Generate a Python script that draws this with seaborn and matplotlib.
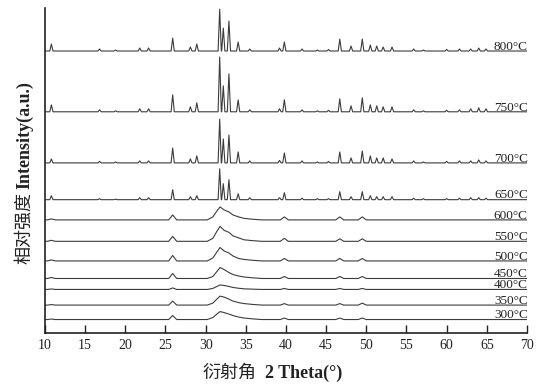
import numpy as np
import pandas as pd
import matplotlib
matplotlib.use('Agg')
import matplotlib.pyplot as plt
import seaborn as sns

# temperatures, bottom to top
temps = ['300', '350', '400', '450', '500', '550', '600', '650', '700', '750', '800']
# vertical offset of every pattern (a.u.)
offsets = [13.5, 28, 43.7, 54.7, 72.3, 92, 113.5, 133.8, 170.7, 222, 283]

# crystalline patterns (650-800 C): peak positions (2 theta) and heights
peak_pos = [10.8, 16.8, 18.8, 21.8, 22.9, 25.9, 28.1, 28.9, 31.75, 32.2, 32.9, 34.05,
            35.5, 39.2, 39.8, 42.0, 43.9, 45.3, 46.7, 48.1, 49.5, 50.5, 51.3, 52.1,
            53.2, 55.9, 57.1, 60.0, 61.6, 63.0, 64.0, 64.9]
h650 = [4, 1, 0.5, 2, 2, 10, 3, 4, 31, 16, 20, 6, 2, 2, 7, 1.5, 1, 1, 8, 3, 8, 4, 3, 3,
        3, 1.5, 1, 1, 1.5, 2, 2, 1.5]
h700 = [4, 1.5, 1, 2, 2, 15, 4, 7, 44, 24, 28, 11, 2, 2.5, 10, 2, 1, 1.5, 11, 5, 12, 7, 5, 5,
        4, 2, 1, 1.5, 2, 2, 3, 2]
h750 = [7, 2, 1, 3, 3, 17, 5, 9, 55, 26, 38, 12, 2, 3, 12, 2, 1, 1.5, 13, 6, 14, 7, 6, 5,
        5, 2, 1, 1.5, 2, 3, 4, 3]
h800 = [7, 2, 1, 3, 3, 13, 4, 7, 42, 23, 30, 9, 2, 3, 9, 2, 1, 1.5, 12, 5, 12, 6, 5, 4,
        4, 2, 1, 1.5, 2, 2, 3, 2]

# poorly crystalline patterns (300-600 C): broad hump near 32 deg plus weak peaks
hump_x = [30.2, 30.9, 31.4, 31.8, 32.3, 32.9, 33.4, 34.1, 34.8, 35.8, 37.0]
hump300 = [0, 2, 5.5, 8, 7, 5.5, 4, 2.5, 1.5, 0.7, 0]
hump350 = [0, 2, 6, 9, 8, 6, 4, 2.5, 1.5, 0.7, 0]
hump400 = [0, 1, 3, 4.5, 4, 3, 2, 1.2, 0.6, 0.3, 0]
hump450 = [0, 2, 7, 11, 9, 6, 4, 2.5, 1.5, 0.7, 0]
hump500 = [0, 3, 9, 13.5, 10, 8, 5, 2.5, 1.5, 0.7, 0]
hump550 = [0, 3, 10, 15, 11, 9, 5.5, 3.5, 1.5, 0.7, 0]
hump600 = [0, 3, 9, 13, 10, 8, 5, 3, 1.5, 0.7, 0]

weak_pos = [10.8, 25.9, 39.8, 46.7, 49.5]
weak300 = [0.5, 4, 1.5, 1.5, 1.5]
weak350 = [0.5, 4, 1.5, 1.5, 2]
weak400 = [0.5, 1.5, 1, 1, 1]
weak450 = [1, 5, 2, 2, 2]
weak500 = [1, 5.5, 2.5, 2.5, 2.5]
weak550 = [1, 5, 3, 2.5, 2.5]
weak600 = [1, 5, 3, 3, 3]

x_ticks = [10, 15, 20, 25, 30, 35, 40, 45, 50, 55, 60, 65, 70]


def peak_vertices(pos, heights, half):
    # each peak drawn as a narrow spike: foot, apex, foot
    xs, ys = [], []
    for p, h in zip(pos, heights):
        xs += [p - half, p, p + half]
        ys += [0, h, 0]
    return xs, ys


def build_curve(peaks, hump=None, half=0.2):
    xs, ys = [10.0, 70.0], [0, 0]
    px, py = peak_vertices(peaks[0], peaks[1], half)
    xs += px
    ys += py
    if hump is not None:
        xs += list(hump_x)
        ys += list(hump)
    df = pd.DataFrame({'x': xs, 'y': ys}).sort_values('x')
    return df


curves = {
    '300': build_curve((weak_pos, weak300), hump300, 0.5),
    '350': build_curve((weak_pos, weak350), hump350, 0.5),
    '400': build_curve((weak_pos, weak400), hump400, 0.5),
    '450': build_curve((weak_pos, weak450), hump450, 0.5),
    '500': build_curve((weak_pos, weak500), hump500, 0.5),
    '550': build_curve((weak_pos, weak550), hump550, 0.5),
    '600': build_curve((weak_pos, weak600), hump600, 0.5),
    '650': build_curve((peak_pos, h650)),
    '700': build_curve((peak_pos, h700)),
    '750': build_curve((peak_pos, h750)),
    '800': build_curve((peak_pos, h800)),
}

sns.set_style('ticks')
plt.rcParams['font.family'] = ['Liberation Serif', 'Noto Sans CJK SC']

fig = plt.figure(figsize=(5.55, 3.89), dpi=100)
ax = fig.add_axes([0.081, 0.144, 0.8685, 0.835])

for t, off in zip(temps, offsets):
    df = curves[t].copy()
    df['y'] = df['y'] + off
    sns.lineplot(data=df, x='x', y='y', ax=ax, color='#3c3c3c', lw=0.8,
                 estimator=None, sort=False)
    ax.text(70.1, off + 1.2, t + '°C', ha='right', va='baseline', fontsize=9.5,
            family='Liberation Serif', color='#222222', clip_on=False)

ax.set_xlim(10, 70)
ax.set_ylim(0, 326)
ax.set_xticks(x_ticks)
ax.set_yticks([])
ax.set_xlabel('')
ax.set_ylabel('')
for side in ['top', 'right']:
    ax.spines[side].set_visible(False)
for side in ['left', 'bottom']:
    ax.spines[side].set_linewidth(1.2)
    ax.spines[side].set_color('#222222')
ax.tick_params(axis='x', direction='in', length=6, width=1.0, labelsize=10,
               colors='#222222', pad=4)

# axis titles: Chinese part regular, English part bold
fig.text(256 / 555, 16 / 389, '衍射角', ha='right', va='center', fontsize=13,
         family='Noto Sans CJK SC', color='#222222')
fig.text(265 / 555, 16 / 389, '2 Theta(°)', ha='left', va='center', fontsize=13,
         family='Liberation Serif', weight='bold', color='#222222')
fig.text(24 / 555, 1 - 192 / 389, '相对强度', ha='center', va='top', rotation=90,
         fontsize=13, family='Noto Sans CJK SC', color='#222222')
fig.text(25 / 555, 1 - 189 / 389, 'Intensity(a.u.)', ha='center', va='bottom',
         rotation=90, fontsize=13, family='Liberation Serif', weight='bold',
         color='#222222')

fig.savefig('out.png', dpi=100)
